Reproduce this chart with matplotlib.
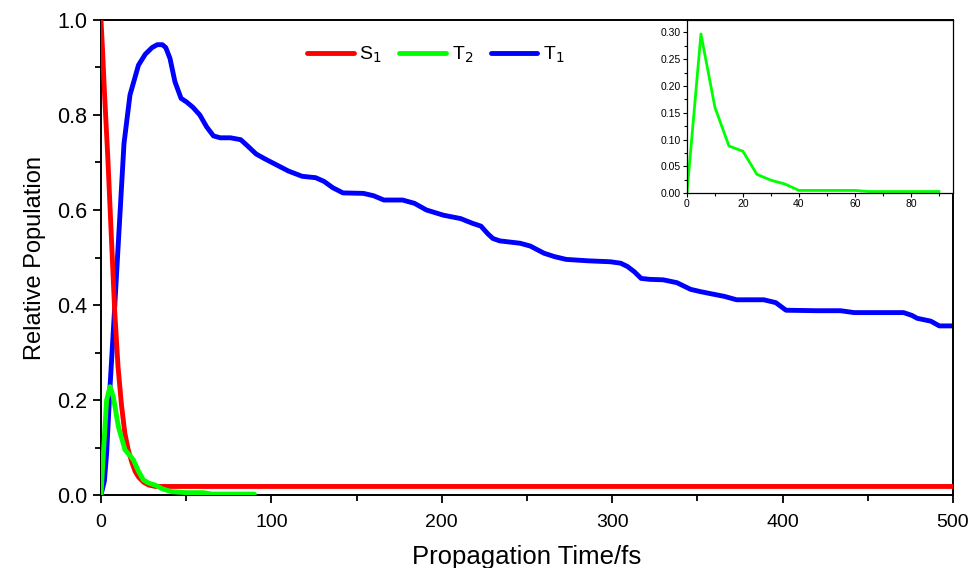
import numpy as np
import matplotlib
matplotlib.use('Agg')
import matplotlib.pyplot as plt
from matplotlib.ticker import MultipleLocator

plt.rcParams['font.family'] = ['Liberation Sans', 'DejaVu Sans']

# S1 population
t_s1 = [0, 1, 2, 3, 4, 5, 6, 7, 8, 9, 10, 12, 14, 16, 18, 20, 22, 25, 28, 32, 40, 500]
p_s1 = [1.0, 0.93, 0.85, 0.78, 0.71, 0.63, 0.55, 0.47, 0.39, 0.33, 0.27, 0.19, 0.13,
        0.095, 0.07, 0.05, 0.038, 0.027, 0.021, 0.018, 0.018, 0.018]

# T2 population
t_t2 = [0, 1.4, 3.3, 5.3, 7.2, 10.2, 14.1, 17, 19, 22, 24.8, 28, 31.7, 36, 41.5, 50, 60, 65, 90]
p_t2 = [0, 0.088, 0.2, 0.228, 0.207, 0.144, 0.095, 0.083, 0.074, 0.05, 0.032, 0.025,
        0.021, 0.013, 0.007, 0.005, 0.005, 0.002, 0.002]

# T1 population
t_t1 = [0, 2, 3.3, 5.3, 7.6, 10.6, 13.5, 17, 22, 26, 30, 33, 36, 38, 40.5, 43.4, 47, 50,
        54, 58, 62, 66, 70, 76, 82, 86, 91, 96, 103, 110, 118, 126, 131, 136, 142, 154,
        160, 166, 177, 184, 191, 201, 211, 218, 223, 227, 230, 234, 246, 252, 260, 266,
        273, 286, 299, 305, 309, 313, 317, 322, 330, 338, 346, 352, 359, 366, 373, 389,
        396, 402, 420, 434, 442, 471, 476, 479, 487, 492, 496, 500]
p_t1 = [0, 0.03, 0.088, 0.228, 0.368, 0.558, 0.74, 0.842, 0.905, 0.928, 0.942, 0.948,
        0.948, 0.942, 0.919, 0.87, 0.835, 0.828, 0.816, 0.8, 0.775, 0.756, 0.752, 0.752,
        0.748, 0.735, 0.718, 0.708, 0.695, 0.682, 0.671, 0.668, 0.66, 0.647, 0.636, 0.635,
        0.63, 0.621, 0.621, 0.614, 0.6, 0.589, 0.582, 0.572, 0.566, 0.55, 0.54, 0.535,
        0.53, 0.524, 0.509, 0.502, 0.496, 0.493, 0.491, 0.488, 0.481, 0.47, 0.456, 0.454,
        0.453, 0.447, 0.433, 0.428, 0.423, 0.418, 0.411, 0.411, 0.405, 0.389, 0.388,
        0.388, 0.384, 0.384, 0.378, 0.372, 0.366, 0.356, 0.356, 0.356]

# inset: raw T2 samples
t_in = [0, 5, 10, 15, 20, 25, 30, 35, 40, 45, 50, 55, 60, 65, 70, 75, 80, 85, 90]
p_in = [0, 0.297, 0.16, 0.088, 0.078, 0.035, 0.024, 0.017, 0.005, 0.005, 0.005, 0.005,
        0.005, 0.003, 0.003, 0.003, 0.003, 0.003, 0.003]

fig = plt.figure(figsize=(9.73, 5.68), dpi=100)
ax = fig.add_axes([0.1038, 0.1285, 0.8756, 0.8363])

kw = dict(lw=3.5, solid_joinstyle='round', solid_capstyle='round')
ax.plot(t_s1, p_s1, color='#ff0000', label='S$_1$', zorder=3, **kw)
ax.plot(t_t2, p_t2, color='#00ff00', label='T$_2$', zorder=4, **kw)
ax.plot(t_t1, p_t1, color='#0000ff', label='T$_1$', zorder=2, **kw)

ax.set_xlim(0, 500)
ax.set_ylim(0, 1.0)
ax.xaxis.set_major_locator(MultipleLocator(100))
ax.xaxis.set_minor_locator(MultipleLocator(50))
ax.yaxis.set_major_locator(MultipleLocator(0.2))
ax.yaxis.set_minor_locator(MultipleLocator(0.1))
ax.yaxis.set_major_formatter(matplotlib.ticker.FormatStrFormatter('%.1f'))
ax.tick_params(which='major', direction='out', length=6, width=1.3)
ax.tick_params(which='minor', direction='out', length=4, width=1.3)
ax.tick_params(axis='x', which='major', labelsize=14, pad=8)
ax.tick_params(axis='y', which='major', labelsize=15.5, pad=4)
for s in ax.spines.values():
    s.set_linewidth(1.4)
ax.set_xlabel('Propagation Time/fs', fontsize=18.5, labelpad=10)
ax.set_ylabel('Relative Population', fontsize=17, labelpad=8)

ax.legend(loc='center', bbox_to_anchor=(0.393, 0.926), ncol=3, frameon=False,
          fontsize=14, handlelength=2.4, handletextpad=0.3, columnspacing=0.9)

# inset
axi = fig.add_axes([0.706, 0.660, 0.2734, 0.3048])
axi.plot(t_in, p_in, color='#00ff00', lw=2)
axi.set_xlim(0, 95)
axi.set_ylim(0, 0.323)
axi.xaxis.set_major_locator(MultipleLocator(20))
axi.xaxis.set_minor_locator(MultipleLocator(10))
axi.yaxis.set_major_locator(MultipleLocator(0.05))
axi.yaxis.set_minor_locator(MultipleLocator(0.025))
axi.yaxis.set_major_formatter(matplotlib.ticker.FormatStrFormatter('%.2f'))
axi.tick_params(which='major', direction='out', length=3, width=0.8, labelsize=7.5, pad=1.5)
axi.tick_params(which='minor', direction='out', length=2, width=0.8)
for s in axi.spines.values():
    s.set_linewidth(0.9)

fig.savefig('out.png', dpi=100)
